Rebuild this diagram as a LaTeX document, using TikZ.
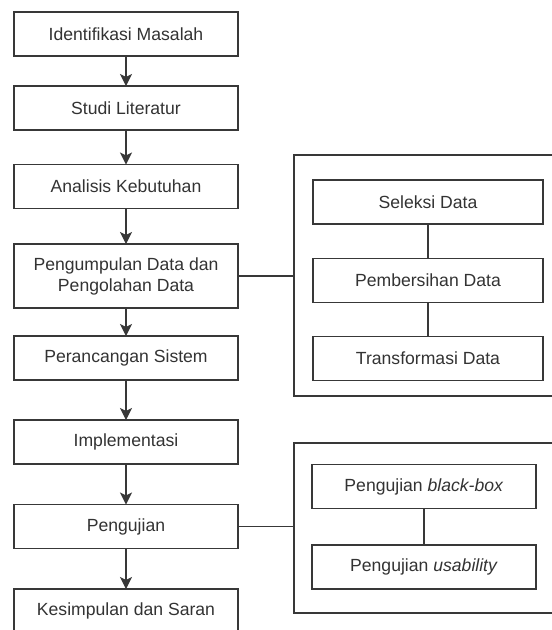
\documentclass[tikz,border=0pt]{standalone}
\usepackage{fontspec}
\setmainfont{Liberation Sans}
\usetikzlibrary{arrows.meta}
\definecolor{linegray}{HTML}{383838}
\definecolor{textgray}{HTML}{333333}
\tikzset{
  stepbox/.style={draw=linegray, line width=1.3pt, fill=white, text=textgray,
    minimum width=224pt, minimum height=44pt, inner sep=0pt, outer sep=0pt,
    align=center, font=\fontsize{17.6}{21}\selectfont},
  groupbox/.style={draw=linegray, line width=1.3pt, minimum width=266pt,
    inner sep=0pt, outer sep=0pt},
  subbox/.style={stepbox, minimum width=230pt}
}
\begin{document}
\begin{tikzpicture}[x=1pt, y=-1pt]
      \useasboundingbox (0,0) rectangle (552,630);
      \draw
        (427,275.5) node[groupbox, minimum height=241pt] (grpA){}
        (427,528) node[groupbox, minimum height=170pt] (grpB){};
      \draw
        (126,34) node[stepbox] (identifikasi){Identifikasi Masalah}
        (126,108) node[stepbox] (literatur){Studi Literatur}
        (126,186.5) node[stepbox] (analisis){Analisis Kebutuhan}
        (126,276) node[stepbox, minimum height=64pt] (pengumpulan){Pengumpulan Data dan\\Pengolahan Data}
        (126,358) node[stepbox] (perancangan){Perancangan Sistem}
        (126,442) node[stepbox] (implementasi){Implementasi}
        (126,526.5) node[stepbox] (pengujian){Pengujian}
        (126,611) node[stepbox] (kesimpulan){Kesimpulan dan Saran};
      \draw
        (428,202) node[subbox] (seleksi){Seleksi Data}
        (428,280.5) node[subbox] (pembersihan){Pembersihan Data}
        (428,358.5) node[subbox] (transformasi){Transformasi Data}
        (424,486.5) node[subbox, minimum width=224pt] (blackbox){Pengujian \textit{black-box}}
        (424,567) node[subbox, minimum width=224pt] (usability){Pengujian \textit{usability}};
      \begin{scope}[-{Stealth[length=12pt, width=12pt, inset=3pt]}, line width=1.3pt, draw=linegray]
        \draw (identifikasi) to (literatur);
        \draw (literatur) to (analisis);
        \draw (analisis) to (pengumpulan);
        \draw (pengumpulan) to (perancangan);
        \draw (perancangan) to (implementasi);
        \draw (implementasi) to (pengujian);
        \draw (pengujian) to (kesimpulan);
      \end{scope}
      \begin{scope}[-, line width=1.3pt, draw=linegray]
        \draw (pengumpulan.east) to (grpA.west |- pengumpulan.east);
        \draw (pengujian.east) to (grpB.west |- pengujian.east);
        \draw (seleksi) to (pembersihan);
        \draw (pembersihan) to (transformasi);
        \draw (blackbox) to (usability);
      \end{scope}
    \end{tikzpicture}
\end{document}
